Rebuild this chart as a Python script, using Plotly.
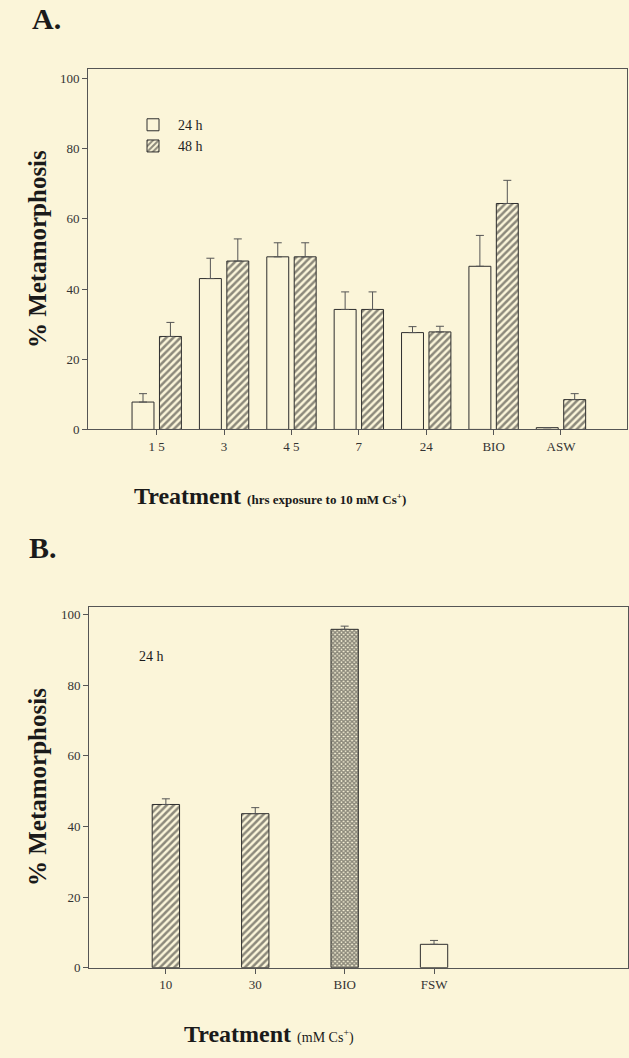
import plotly.graph_objects as go

# ---------------- data ----------------
cats_a = ["1 5", "3", "4 5", "7", "24", "BIO", "ASW"]
vals_24h = [7.8, 43.0, 49.2, 34.2, 27.6, 46.5, 0.5]
err_24h = [2.4, 5.8, 4.0, 5.0, 1.7, 8.8, 0.0]
vals_48h = [26.5, 48.0, 49.2, 34.2, 27.8, 64.4, 8.5]
err_48h = [4.0, 6.3, 4.0, 5.0, 1.6, 6.6, 1.7]

cats_b = ["10", "30", "BIO", "FSW"]
vals_b = [46.2, 43.6, 95.8, 6.6]
err_b = [1.6, 1.7, 0.9, 1.1]
patterns_b = ["/", "/", "x", ""]

y_ticks = [0, 20, 40, 60, 80, 100]

# ---------------- style ----------------
BG = "#FBF5D9"
INK = "#2e2e2e"
LINE = "#555555"
FONT = "Liberation Serif"
W, H = 629, 1058

xa = list(range(len(cats_a)))
xb = list(range(len(cats_b)))

fig = go.Figure()

fig.add_trace(go.Bar(
    x=xa, y=vals_24h, name="24 h",
    marker=dict(color=BG, line=dict(color=INK, width=1)),
    error_y=dict(type="data", array=err_24h, arrayminus=[0] * len(err_24h),
                 symmetric=False, color=LINE, thickness=1, width=4),
    xaxis="x", yaxis="y",
))
fig.add_trace(go.Bar(
    x=xa, y=vals_48h, name="48 h",
    marker=dict(color=BG, line=dict(color=INK, width=1),
                pattern=dict(shape="/", size=5, solidity=0.5, fgcolor="#1e1e1e")),
    error_y=dict(type="data", array=err_48h, arrayminus=[0] * len(err_48h),
                 symmetric=False, color=LINE, thickness=1, width=4),
    xaxis="x", yaxis="y",
))
fig.add_trace(go.Bar(
    x=xb, y=vals_b, name="B", showlegend=False, width=0.306,
    marker=dict(color=BG, line=dict(color=INK, width=1),
                pattern=dict(shape=patterns_b, size=[5, 5, 3, 5],
                             solidity=[0.5, 0.5, 0.75, 0.5], fgcolor="#1e1e1e")),
    error_y=dict(type="data", array=err_b, arrayminus=[0] * len(err_b),
                 symmetric=False, color=LINE, thickness=1, width=4),
    xaxis="x2", yaxis="y2",
))

def px_x(p):
    return p / W

def px_y(p):
    return 1 - p / H

axis_common = dict(
    showline=True, linecolor=LINE, linewidth=1, mirror=True,
    ticks="outside", ticklen=5, tickcolor=LINE, tickwidth=1,
    showgrid=False, zeroline=False,
    tickfont=dict(family=FONT, size=13, color="#333"),
)

fig.update_layout(
    width=W, height=H,
    margin=dict(l=0, r=0, t=0, b=0),
    paper_bgcolor=BG, plot_bgcolor=BG,
    barmode="group", bargap=0.186, bargroupgap=0.2,
    font=dict(family=FONT, color="#222", size=13),
    xaxis=dict(domain=[px_x(88), px_x(627)], range=[-1.02, 6.98],
               tickvals=xa, ticktext=cats_a, anchor="y", **axis_common),
    yaxis=dict(domain=[px_y(432.7), px_y(70)], range=[0, 102.6],
               tickvals=y_ticks, anchor="x", **axis_common),
    xaxis2=dict(domain=[px_x(89), px_x(628)], range=[-0.86, 5.17],
                tickvals=xb, ticktext=cats_b, anchor="y2", **axis_common),
    yaxis2=dict(domain=[px_y(975), px_y(611.7)], range=[0, 102.1],
                tickvals=y_ticks, anchor="x2", **axis_common),
    legend=dict(x=px_x(128), y=px_y(110), xanchor="left", yanchor="top",
                bgcolor="rgba(0,0,0,0)", font=dict(family=FONT, size=14, color="#222"),
                traceorder="normal", itemwidth=40),
    showlegend=True,
)

ann = [
    dict(text="<b>A.</b>", x=px_x(30), y=px_y(19), font=dict(size=30)),
    dict(text="<b>B.</b>", x=px_x(27), y=px_y(552), font=dict(size=30)),
    dict(text="<b>% Metamorphosis</b>", x=px_x(37), y=px_y(251), textangle=-90,
         xanchor="center", font=dict(size=25)),
    dict(text="<b>% Metamorphosis</b>", x=px_x(37), y=px_y(793), textangle=-90,
         xanchor="center", font=dict(size=25)),
    dict(text="<b>Treatment</b> <span style='font-size:13px'><b>(hrs exposure to 10 mM Cs<sup>+</sup>)</b></span>",
         x=px_x(132), y=px_y(500), font=dict(size=24)),
    dict(text="<b>Treatment</b> <span style='font-size:14px'>(mM Cs<sup>+</sup>)</span>",
         x=px_x(182), y=px_y(1042), font=dict(size=24)),
    dict(text="24 h", x=px_x(137), y=px_y(662), font=dict(size=14)),
]
for a in ann:
    a.setdefault("xanchor", "left")
    fig.add_annotation(xref="paper", yref="paper", showarrow=False,
                       yanchor="middle", **a)
for a in fig.layout.annotations:
    a.font.family = FONT
    a.font.color = "#1a1a1a"

fig.write_html("out.html")
